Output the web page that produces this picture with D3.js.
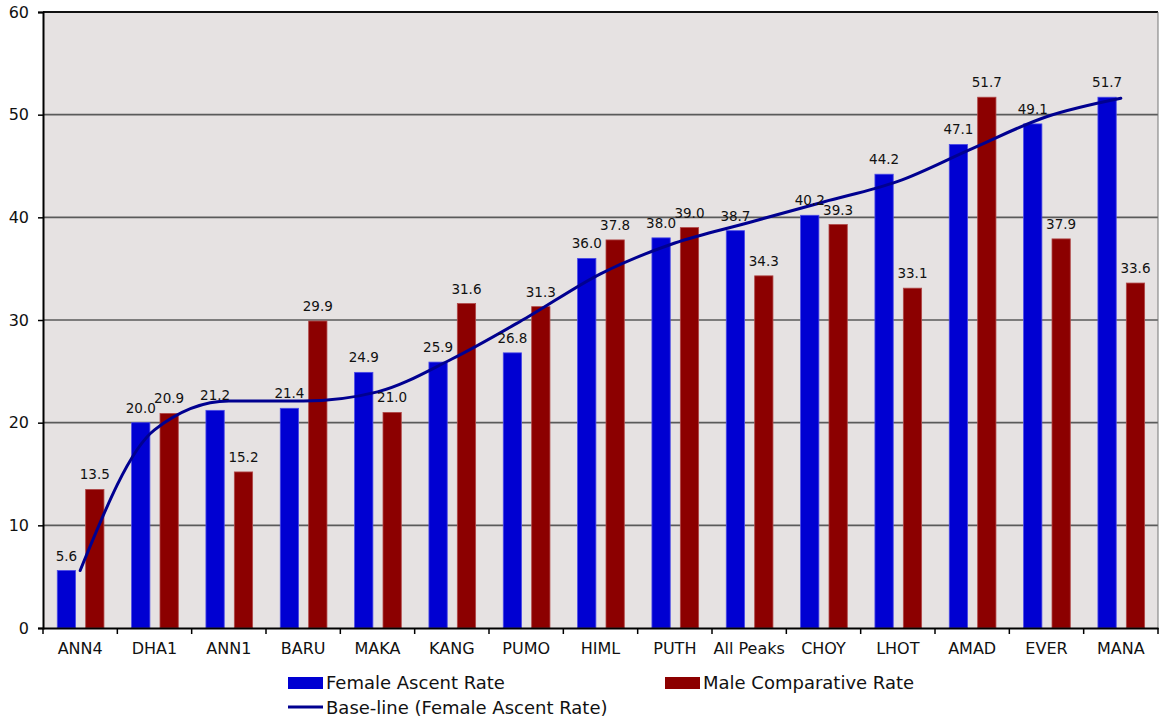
<!DOCTYPE html>
<html>
<head>
<meta charset="utf-8">
<script src="https://cdn.jsdelivr.net/npm/d3@7"></script>
<style>
  body { margin: 0; background: #fff; }
  svg { display: block; font-family: "DejaVu Sans", Verdana, sans-serif; }
</style>
</head>
<body>
<svg id="mysvg" width="1159" height="721"></svg>
<script>
// chart values
let categories = ["ANN4", "DHA1", "ANN1", "BARU", "MAKA", "KANG", "PUMO", "HIML", "PUTH", "All Peaks", "CHOY", "LHOT", "AMAD", "EVER", "MANA"];
let femaleRate = [5.6, 20.0, 21.2, 21.4, 24.9, 25.9, 26.8, 36.0, 38.0, 38.7, 40.2, 44.2, 47.1, 49.1, 51.7];
let maleRate = [13.5, 20.9, 15.2, 29.9, 21.0, 31.6, 31.3, 37.8, 39.0, 34.3, 39.3, 33.1, 51.7, 37.9, 33.6];
let baseLine = [5.6, 19.3, 22.1, 22.1, 23.0, 26.2, 30.2, 34.5, 37.5, 39.5, 41.5, 43.5, 46.7, 49.8, 51.6];
let yTicks = [0, 10, 20, 30, 40, 50, 60];

let blueCol = "#0000d2";
let redCol = "#8c0000";
let lineCol = "#000090";

let svg = d3.select("svg");
let plotLeft = 43, plotTop = 12, plotRight = 1158, plotBottom = 628;
let width = plotRight - plotLeft, height = plotBottom - plotTop;

let x = d3.scaleBand().domain(categories).range([0, width]).padding(0);
let y = d3.scaleLinear().domain([0, 60]).range([height, 0]);
let bw = x.bandwidth();

let g = svg.append("g").attr("transform", "translate(" + plotLeft + "," + plotTop + ")");

// plot background
g.append("rect")
  .attr("x", 0).attr("y", 0)
  .attr("width", width).attr("height", height)
  .attr("fill", "#e6e2e2");

// grid lines
g.append("g")
  .selectAll("line")
  .data(yTicks.filter(function(d) { return d > 0 && d < 60; }))
  .enter().append("line")
  .attr("x1", 0).attr("x2", width)
  .attr("y1", function(d) { return y(d); })
  .attr("y2", function(d) { return y(d); })
  .attr("stroke", "#5a5a5a")
  .attr("stroke-width", 1.6);

// top and right frame
g.append("line").attr("x1", 0).attr("x2", width).attr("y1", y(60)).attr("y2", y(60))
  .attr("stroke", "#111").attr("stroke-width", 2);
g.append("line").attr("x1", width).attr("x2", width).attr("y1", 0).attr("y2", height)
  .attr("stroke", "#777").attr("stroke-width", 1);

// bars
let bars = g.append("g");
bars.selectAll(".fbar")
  .data(femaleRate).enter().append("rect")
  .attr("class", "fbar")
  .attr("x", function(d, i) { return x(categories[i]) + bw * 0.192; })
  .attr("width", bw * 0.246)
  .attr("y", function(d) { return y(d); })
  .attr("height", function(d) { return height - y(d); })
  .attr("fill", blueCol)
  .attr("stroke", "#4a4ae6").attr("stroke-width", 0.8);

bars.selectAll(".mbar")
  .data(maleRate).enter().append("rect")
  .attr("class", "mbar")
  .attr("x", function(d, i) { return x(categories[i]) + bw * 0.574; })
  .attr("width", bw * 0.246)
  .attr("y", function(d) { return y(d); })
  .attr("height", function(d) { return height - y(d); })
  .attr("fill", redCol)
  .attr("stroke", "#b04848").attr("stroke-width", 0.8);

// base-line curve
g.append("path")
  .datum(baseLine)
  .attr("fill", "none")
  .attr("stroke", lineCol)
  .attr("stroke-width", 3)
  .attr("stroke-linecap", "round")
  .attr("d", d3.line()
    .curve(d3.curveMonotoneX)
    .x(function(d, i) { return x(categories[i]) + bw / 2; })
    .y(function(d) { return y(d); }));

// value labels
g.append("g").selectAll("text")
  .data(femaleRate).enter().append("text")
  .attr("x", function(d, i) { return x(categories[i]) + bw * 0.315; })
  .attr("y", function(d) { return y(d) - 10; })
  .attr("text-anchor", "middle")
  .attr("font-size", "13.5px")
  .attr("fill", "#111")
  .text(function(d) { return d.toFixed(1); });

g.append("g").selectAll("text")
  .data(maleRate).enter().append("text")
  .attr("x", function(d, i) { return x(categories[i]) + bw * 0.697; })
  .attr("y", function(d) { return y(d) - 10; })
  .attr("text-anchor", "middle")
  .attr("font-size", "13.5px")
  .attr("fill", "#111")
  .text(function(d) { return d.toFixed(1); });

// y axis
let yAxis = g.append("g")
  .call(d3.axisLeft(y).tickValues(yTicks).tickSize(5).tickPadding(9).tickFormat(d3.format("d")));
yAxis.select(".domain").attr("stroke", "#000").attr("stroke-width", 2);
yAxis.selectAll(".tick line").attr("stroke", "#000").attr("stroke-width", 1.5);
yAxis.selectAll(".tick text").attr("font-size", "16px").attr("fill", "#111")
  .attr("font-family", "DejaVu Sans, Verdana, sans-serif");

// x axis
let xAxis = g.append("g")
  .attr("transform", "translate(0," + height + ")")
  .call(d3.axisBottom(x).tickSize(0).tickPadding(15));
xAxis.select(".domain").attr("stroke", "#000").attr("stroke-width", 2);
xAxis.selectAll(".tick text").attr("font-size", "16px").attr("fill", "#111")
  .attr("font-family", "DejaVu Sans, Verdana, sans-serif");
xAxis.append("g").selectAll("line")
  .data(d3.range(categories.length + 1))
  .enter().append("line")
  .attr("x1", function(d) { return d * bw; })
  .attr("x2", function(d) { return d * bw; })
  .attr("y1", 0).attr("y2", 6)
  .attr("stroke", "#000").attr("stroke-width", 1.5);

// legend
let legend = svg.append("g").attr("font-size", "18px").attr("fill", "#111");
legend.append("rect").attr("x", 288).attr("y", 677).attr("width", 35).attr("height", 12).attr("fill", blueCol);
legend.append("text").attr("x", 326).attr("y", 689).text("Female Ascent Rate");
legend.append("rect").attr("x", 665).attr("y", 677).attr("width", 35).attr("height", 12).attr("fill", redCol);
legend.append("text").attr("x", 703).attr("y", 689).text("Male Comparative Rate");
legend.append("line").attr("x1", 288).attr("x2", 323).attr("y1", 707).attr("y2", 707)
  .attr("stroke", lineCol).attr("stroke-width", 3);
legend.append("text").attr("x", 326).attr("y", 714).text("Base-line (Female Ascent Rate)");
</script>
</body>
</html>
